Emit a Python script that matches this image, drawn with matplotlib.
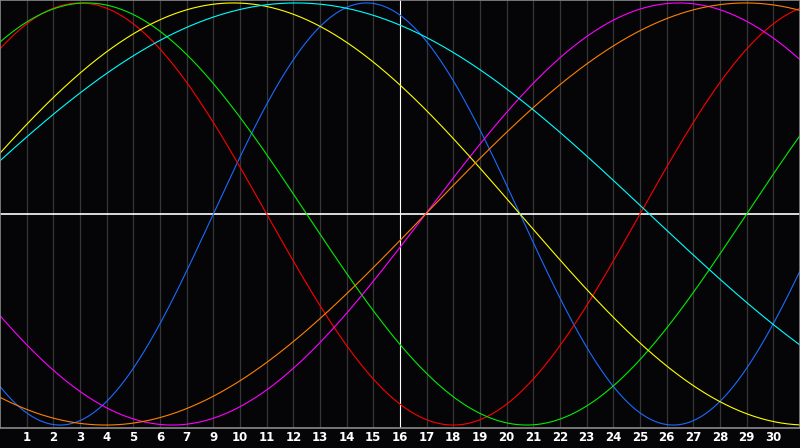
import numpy as np
import matplotlib
matplotlib.use("Agg")
import matplotlib.pyplot as plt

# biorhythm cycles: period in days and the day of the upward zero crossing
colors = ["#1a6bff", "#ff0000", "#00ee00", "#ff00ff", "#ffff00", "#ff8000", "#00ffff"]
periods = [23, 28, 33, 38, 43, 48, 53]
zero_day = [8.0, 24.0, 28.0, 15.96, -2.0, 15.96, -2.15]

n_days = 30
today = 15
tick_labels = ["1", "2", "3", "4", "5", "6", "7", "9", "10", "11", "12", "13", "14", "15",
               "16", "17", "18", "19", "20", "21", "22", "23", "24", "25", "26", "27",
               "28", "29", "30"]

bg = "#050508"
fig = plt.figure(figsize=(8, 4.48), dpi=100, facecolor=bg)
ax = fig.add_axes([0, 20 / 448, 1, 428 / 448])
ax.set_facecolor(bg)

days = np.linspace(0, n_days, 1200)
for k in range(1, n_days):
    ax.axvline(k, color="#fefefe" if k == today else "#363636", lw=0.8 if k == today else 0.9, zorder=1)
ax.axhline(0, color="white", lw=1.2, zorder=1)

for c, p, z in zip(colors, periods, zero_day):
    ax.plot(days, np.sin(2 * np.pi * (days - z) / p), color=c, lw=0.8, zorder=2)

ax.set_xlim(0, n_days)
ax.set_ylim(-1.014, 1.014)
ax.set_xticks(range(1, n_days))
ax.set_xticklabels(tick_labels)
ax.tick_params(axis="x", length=0, pad=2.5, colors="white", labelsize=8.5)
for t in ax.get_xticklabels():
    t.set_fontweight("bold")
ax.set_yticks([])
for s in ax.spines.values():
    s.set_color("#8a8a8a")
    s.set_linewidth(1.2)

fig.savefig("out.png", dpi=100, facecolor=bg)
